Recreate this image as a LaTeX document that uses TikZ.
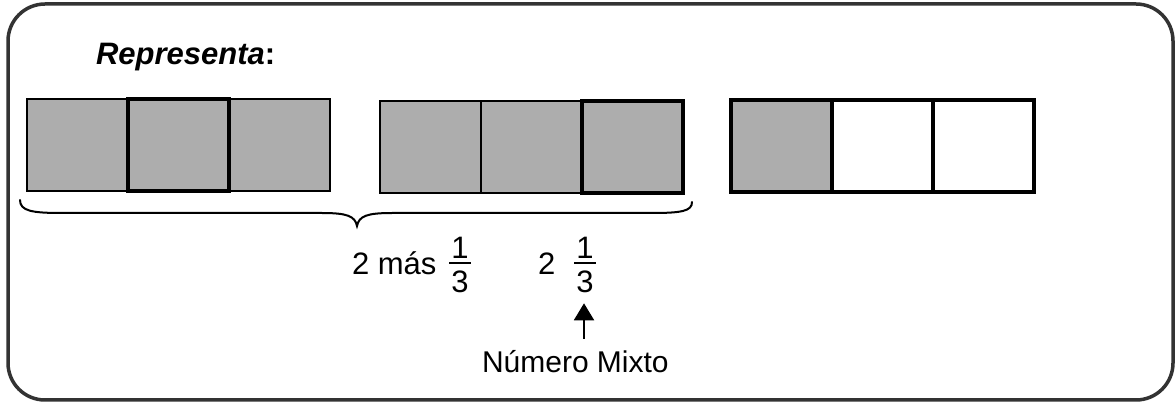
\documentclass[tikz,border=0pt]{standalone}
\usepackage{fontspec}
\setmainfont{Liberation Sans}
\usetikzlibrary{arrows.meta}
\definecolor{cellgray}{RGB}{173,173,173}
\definecolor{framegray}{RGB}{51,51,51}
\tikzset{
  cell/.style={draw=black, line width=2pt, minimum width=101pt, minimum height=92pt,
               inner sep=0pt, outer sep=0pt, anchor=north west},
  shaded/.style={cell, fill=cellgray},
  blank/.style={cell, fill=white},
  bold cell/.style={line width=3.5pt},
  label/.style={inner sep=0pt, outer sep=0pt, font=\fontsize{31}{31}\selectfont},
  arr/.style={line width=2pt, -{Triangle[width=20pt,length=17pt]}},
  bracepath/.style={line width=2pt, line cap=round}
}
\begin{document}
\begin{tikzpicture}[x=1pt,y=-1pt]
\useasboundingbox (0,0) rectangle (1176,403);
% outer frame
\draw[framegray, line width=3.5pt, rounded corners=37pt] (8,4) rectangle (1173,400);

% title
\node[label, anchor=base west] (title) at (96,65) {{\bfseries\itshape Representa}{\bfseries :}};

% first whole: three shaded thirds
\node[shaded] (a1) at (27,99) {};
\node[shaded] (a3) at (229,99) {};
\node[shaded, bold cell] (a2) at (128,99) {};

% second whole: three shaded thirds
\node[shaded] (b1) at (380,101) {};
\node[shaded] (b2) at (481,101) {};
\node[shaded, bold cell] (b3) at (582,101) {};

% one third shaded
\node[shaded, bold cell] (c1) at (731,100) {};
\node[blank, bold cell] (c2) at (832,100) {};
\node[blank, bold cell] (c3) at (933,100) {};

% brace under the two wholes
\draw[bracepath] (20,200) .. controls (20,211) and (32,213) .. (62,213)
  -- (322,213) .. controls (347,213) and (355,216) .. (357,226)
  .. controls (359,216) and (367,213) .. (392,213)
  -- (652,213) .. controls (682,213) and (692,211) .. (692,202);

% 2 más 1/3
\node[label, anchor=base west] (mas) at (352,275) {2 más};
\node[label, anchor=base] (n1a) at (460,259) {1};
\node[label, anchor=base] (d3a) at (460,293) {3};
\draw[line width=2pt] (449,263) -- (471,263);

% 2 1/3
\node[label, anchor=base west] (two) at (538,275) {2};
\node[label, anchor=base] (n1b) at (585,259) {1};
\node[label, anchor=base] (d3b) at (585,293) {3};
\draw[line width=2pt] (574,263) -- (596,263);

% mixed number label and pointer
\node[inner sep=0pt, outer sep=0pt, anchor=base west, font=\fontsize{30}{30}\selectfont] (mixto) at (482,373) {Número Mixto};
\coordinate (tail) at (584,339);
\draw[arr, shorten >=10pt] (tail) -- (d3b.south -| tail);
\end{tikzpicture}
\end{document}
